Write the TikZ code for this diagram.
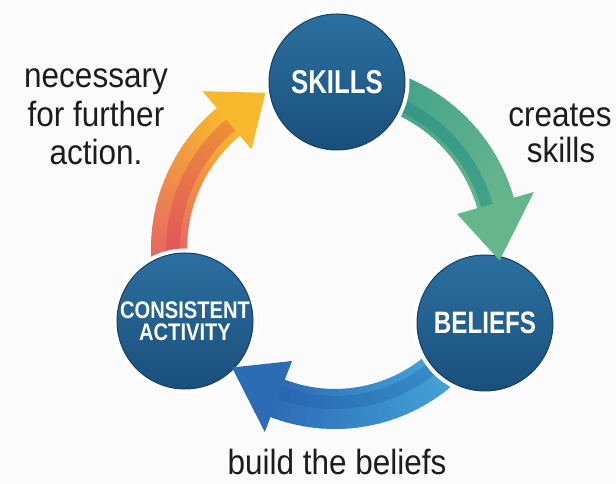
\documentclass[tikz,border=0pt]{standalone}
\usepackage{fontspec}
\setmainfont{Liberation Sans}
\newfontfamily\labfont[FakeStretch=0.9]{Liberation Sans}
\newfontfamily\circfontA[FakeStretch=0.78]{Liberation Sans}
\newfontfamily\circfontB[FakeStretch=0.84]{Liberation Sans}
\definecolor{circtop}{HTML}{2B70A1}
\definecolor{circbot}{HTML}{1A4F7B}
\definecolor{circedge}{HTML}{163F63}
\definecolor{grnA}{HTML}{3E9F8B}
\definecolor{grnB}{HTML}{66B68C}
\definecolor{grnS}{HTML}{1F8C85}
\definecolor{orgA}{HTML}{E4566C}
\definecolor{orgB}{HTML}{F7B82E}
\definecolor{orgS}{HTML}{D8324F}
\definecolor{bluA}{HTML}{4AAEDF}
\definecolor{bluB}{HTML}{2C6CB5}
\definecolor{bluS}{HTML}{1C5AA5}
\definecolor{ink}{HTML}{1C1C1C}
\definecolor{bgcol}{HTML}{FBFBFB}
% gradient band: #1 radius, #2 half width, #3 tail angle, #4 head-base angle, #5 tail colour, #6 head colour, #7 steps
\newcommand{\mybandgrad}[7]{%
  \pgfmathsetmacro\bri{#1-#2}%
  \pgfmathsetmacro\bro{#1+#2}%
  \foreach \i in {1,...,#7}{%
    \pgfmathsetmacro\baa{#3+(#4-#3)*(\i-1)/#7}%
    \pgfmathsetmacro\bab{#3+(#4-#3)*\i/#7-0.5}%
    \pgfmathsetmacro\bpp{100*(\i-0.5)/#7}%
    \fill[#6!\bpp!#5, shift={(cyc)}] (\baa:\bro) arc[start angle=\baa, end angle=\bab, radius=\bro] -- (\bab:\bri) arc[start angle=\bab, end angle=\baa, radius=\bri] -- cycle;
  }%
}
% stripe: #1 inner r, #2 outer r, #3 a1, #4 a2, #5 colour, #6 opacity
\newcommand{\mystripe}[6]{%
  \fill[#5, opacity=#6, shift={(cyc)}] (#3:#2) arc[start angle=#3, end angle=#4, radius=#2] -- (#4:#1) arc[start angle=#4, end angle=#3, radius=#1] -- cycle;
}
% head: #1 radius, #2 half width, #3 base angle, #4 tip angle, #5 tip radius, #6 colour
\newcommand{\myhead}[6]{%
  \pgfmathsetmacro\hri{#1-#2}%
  \pgfmathsetmacro\hro{#1+#2}%
  \fill[#6, shift={(cyc)}] (#3:\hro) -- (#4:#5) -- (#3:\hri) -- cycle;
}
\tikzset{
  bubble/.style={circle, minimum size=136pt, inner sep=0pt, top color=circtop, bottom color=circbot,
    draw=circedge, line width=1pt, preaction={draw=white, line width=9pt}, text=white, align=center},
  lab/.style={font=\labfont\fontsize{35}{38}\selectfont, text=ink, anchor=base, inner sep=0pt},
}
\begin{document}
\begin{tikzpicture}[x=1pt,y=1pt]
\fill[bgcol] (0,0) rectangle (616,484);
\coordinate (cyc) at (335,235);

% arrow bodies
\mybandgrad{167}{19}{80}{16}{grnA}{grnB}{40}
\mystripe{152}{164}{78}{16}{grnS}{0.5}
\mybandgrad{166}{18}{192}{130}{orgA}{orgB}{40}
\mystripe{155}{169}{192}{130}{orgS}{0.3}
\mybandgrad{160}{20}{-36}{-111}{bluA}{bluB}{40}
\mystripe{147}{160}{-36}{-111}{bluS}{0.3}

% circles
\node[bubble, font={\circfontA\bfseries\fontsize{33}{33}\selectfont}] (skills) at (337,402) {SKILLS};
\node[bubble, font={\circfontA\bfseries\fontsize{31}{31}\selectfont}] (beliefs) at (485,161) {BELIEFS};
\node[bubble, font={\circfontB\bfseries\fontsize{24}{22.5}\selectfont}] (activity) at (185,163) {CONSISTENT\\ACTIVITY};

% arrow heads
\myhead{167}{40}{16}{-4}{165}{grnB}
\myhead{168}{38}{130}{114}{171}{orgB}
\myhead{158}{38}{-111}{-131}{157}{bluB}

% labels
\node[lab] (nec1) at (96,396) {necessary};
\node[lab] (nec2) at (96,357) {for further};
\node[lab] (nec3) at (96,319) {action.};
\node[lab] (cre1) at (560,357) {creates};
\node[lab] (cre2) at (561,321) {skills};
\node[lab] (bui) at (337,9) {build the beliefs};
\end{tikzpicture}
\end{document}
